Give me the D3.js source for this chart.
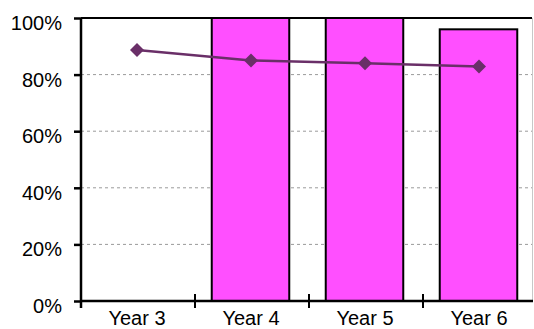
<!DOCTYPE html>
<html>
<head>
<meta charset="utf-8">
<script src="https://cdn.jsdelivr.net/npm/d3@7"></script>
<style>
  html, body { margin: 0; padding: 0; background: #fff; }
  svg { display: block; }
  text { font-family: "Liberation Sans", Arial, sans-serif; fill: #000; }
</style>
</head>
<body>
<svg id="chart" width="534" height="329"></svg>
<script>
// Categories and series
const years = ["Year 3", "Year 4", "Year 5", "Year 6"];
const barValues = [null, 100, 100, 96];
const lineValues = [88.7, 85.0, 84.0, 82.9];
const yTicks = [0, 20, 40, 60, 80, 100];
const yTickLabels = ["0%", "20%", "40%", "60%", "80%", "100%"];

const svg = d3.select("#chart");
const plotLeft = 81, plotRight = 532, plotTop = 18, plotBottom = 301;

const x = d3.scaleBand().domain(years).range([plotLeft, plotLeft + 4 * 114]).padding(0);
const xBar = d3.scaleBand().domain(years).range([plotLeft - 1.5, plotLeft + 4 * 114 - 1.5])
  .paddingInner(0.32).paddingOuter(0.16);
const y = d3.scaleLinear().domain([0, 100]).range([plotBottom, plotTop]);

// dashed gridlines
svg.append("g").selectAll("line")
  .data(yTicks.filter(t => t > 0 && t < 100))
  .join("line")
  .attr("x1", plotLeft).attr("x2", plotRight)
  .attr("y1", d => y(d)).attr("y2", d => y(d))
  .attr("stroke", "#9a9a9a").attr("stroke-width", 1)
  .attr("stroke-dasharray", "3,3");

// right border of plot area
svg.append("line")
  .attr("x1", plotRight + 0.5).attr("x2", plotRight + 0.5)
  .attr("y1", plotTop).attr("y2", plotBottom)
  .attr("stroke", "#c8c8c8").attr("stroke-width", 1);

// bars
const barData = years.map((c, i) => ({ c, v: barValues[i] })).filter(d => d.v != null);
svg.append("g").selectAll("rect")
  .data(barData)
  .join("rect")
  .attr("x", d => xBar(d.c))
  .attr("width", xBar.bandwidth())
  .attr("y", d => y(d.v))
  .attr("height", d => y(0) - y(d.v))
  .attr("fill", "#ff4fff")
  .attr("stroke", "#000").attr("stroke-width", 2);

// top border line
svg.append("line")
  .attr("x1", plotLeft).attr("x2", plotRight)
  .attr("y1", y(100)).attr("y2", y(100))
  .attr("stroke", "#000").attr("stroke-width", 2);

// line series
const pts = years.map((c, i) => [x(c) + x.bandwidth() / 2 - 1, y(lineValues[i])]);
svg.append("path")
  .attr("d", d3.line()(pts))
  .attr("fill", "none")
  .attr("stroke", "#6a2f68").attr("stroke-width", 2.5);

svg.append("g").selectAll("path")
  .data(pts)
  .join("path")
  .attr("transform", d => `translate(${d[0]},${d[1]})`)
  .attr("d", "M0,-7L7,0L0,7L-7,0Z")
  .attr("fill", "#6a2f68");

// y axis
const yAxis = d3.axisLeft(y).tickValues(yTicks).tickSize(7)
  .tickFormat((d, i) => yTickLabels[i]);
const gy = svg.append("g").attr("transform", `translate(${plotLeft},0)`).call(yAxis);
gy.select(".domain").attr("stroke", "#000").attr("stroke-width", 2.5)
  .attr("d", `M0,${plotTop}V${plotBottom + 7}`);
gy.selectAll(".tick line").attr("stroke", "#000").attr("stroke-width", 2.5);
gy.selectAll(".tick text")
  .attr("x", -19).attr("dy", "0.62em").attr("y", -1)
  .style("font-size", "20px").style("font-family", "'Liberation Sans', Arial, sans-serif")
  .attr("fill", "#000");

// x axis with boundary ticks
const gx = svg.append("g");
gx.append("line")
  .attr("x1", plotLeft).attr("x2", plotRight + 1)
  .attr("y1", plotBottom).attr("y2", plotBottom)
  .attr("stroke", "#000").attr("stroke-width", 2.5);
gx.selectAll("line.bound")
  .data(years)
  .join("line").attr("class", "bound")
  .attr("x1", d => x(d)).attr("x2", d => x(d))
  .attr("y1", plotBottom - 7).attr("y2", plotBottom + 7)
  .attr("stroke", "#000").attr("stroke-width", 2);
gx.selectAll("text")
  .data(years)
  .join("text")
  .attr("x", d => x(d) + x.bandwidth() / 2 - 1)
  .attr("y", 325)
  .attr("text-anchor", "middle")
  .style("font-size", "20px")
  .text(d => d);
</script>
</body>
</html>
